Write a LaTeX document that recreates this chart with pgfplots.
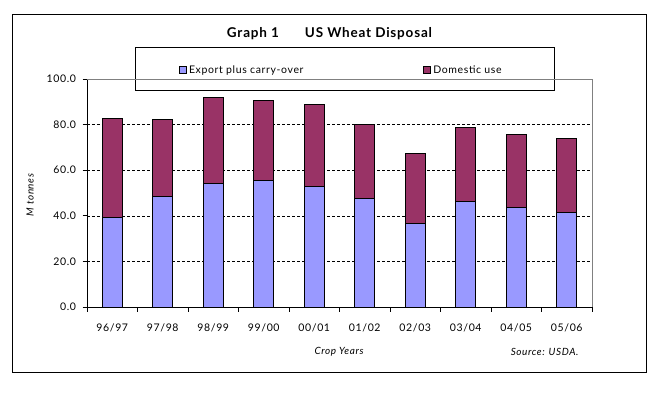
\documentclass[border=0pt]{standalone}
\usepackage{fontspec}
\setmainfont{Lato}[LetterSpace=6]
\usepackage{pgfplots}
\pgfplotsset{compat=1.18}
\definecolor{expblue}{HTML}{9999FF}
\definecolor{dompurple}{HTML}{993366}
\begin{document}
\begin{tikzpicture}[x=1bp,y=1bp,font=\fontsize{10.5bp}{12bp}\selectfont]
\useasboundingbox (-87,-86) rectangle (580,307);
\draw[line width=1bp] (-74,-65) rectangle (559,293);
\begin{axis}[
  at={(0,0)}, anchor=south west,
  scale only axis, width=505bp, height=228bp,
  ybar stacked, bar width=20bp,
  xmin=0.5, xmax=10.5, ymin=0, ymax=100,
  axis x line*=bottom, axis y line*=left,
  axis line style={black, line width=0.8bp},
  xtick={0.5,1.5,...,10.5},
  xticklabels={},
  extra x ticks={1,...,10},
  extra x tick labels={96/97,97/98,98/99,99/00,00/01,01/02,02/03,03/04,04/05,05/06},
  extra x tick style={major tick length=0pt, xticklabel style={yshift=-13bp}},
  ytick={0,20,...,100},
  extra y ticks={20,40,60,80},
  extra y tick labels={},
  extra y tick style={grid=major, major tick length=0pt},
  grid style={black, dash pattern=on 3bp off 2bp, line width=0.6bp},
  tick align=outside,
  tick style={black, line width=0.8bp},
  major tick length=4.5bp,
  yticklabel style={xshift=-3bp, /pgf/number format/.cd, fixed, fixed zerofill, precision=1, assume math mode=true},
  legend style={draw=none, fill=none, at={(0.1822,1.038)}, anchor=west, inner sep=0pt,
    legend columns=2, /tikz/every even column/.append style={column sep=118bp}},
  legend cell align=left,
  legend image code/.code={\draw[#1, line width=0.8bp] (0bp,-3.5bp) rectangle (7bp,3.5bp);},
  clip=false,
]
\addplot[fill=expblue, draw=black, line width=0.8bp] coordinates {
(1,39.2) (2,48.4) (3,54.1) (4,55.4) (5,52.8) (6,47.5) (7,36.6) (8,46.2) (9,43.6) (10,41.4)};
\addplot[fill=dompurple, draw=black, line width=0.8bp] coordinates {
(1,43.4) (2,33.8) (3,37.7) (4,35.1) (5,36.1) (6,32.5) (7,30.7) (8,32.5) (9,32.0) (10,32.5)};
\legend{Export plus carry-over, Domestic use}
\draw[gray, line width=0.8bp] (rel axis cs:0,1) -- (rel axis cs:1,1) -- (rel axis cs:1,0);
\draw[black, fill=white, line width=1bp] (rel axis cs:0.0970,0.9474) rectangle (rel axis cs:0.9248,1.1360);
\end{axis}
\node[font=\bfseries\fontsize{13.5bp}{15bp}\selectfont] at (242.5,273) {Graph 1\hspace{26bp}US Wheat Disposal};
\node[rotate=90, font=\itshape] at (-57,112) {M tonnes};
\node[font=\itshape] at (252,-45) {Crop Years};
\node[font=\itshape, anchor=east] at (495,-45) {Source: USDA.};
\end{tikzpicture}
\end{document}
